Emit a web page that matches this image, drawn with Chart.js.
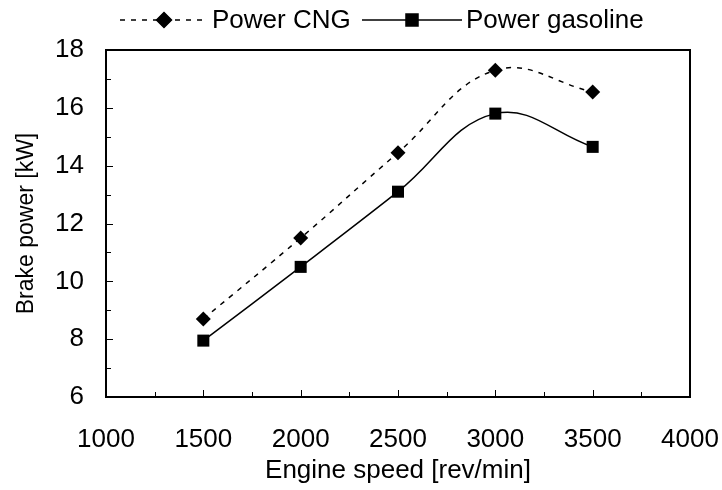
<!DOCTYPE html>
<html>
<head>
<meta charset="utf-8">
<script src="https://cdn.jsdelivr.net/npm/chart.js@4"></script>
<style>
  html, body { margin: 0; padding: 0; background: #fff; }
  #wrap { width: 722px; height: 490px; }
</style>
</head>
<body>
<div id="wrap"><canvas id="chart" width="722" height="490"></canvas></div>
<script>
// ── Data ────────────────────────────────────────────────────────────
const speeds      = [1500, 2000, 2500, 3000, 3500];
const powerCNG    = [8.7, 11.5, 14.45, 17.3, 16.55];
const powerGasol  = [7.95, 10.5, 13.1, 15.8, 14.65];
const seriesNames = ['Power CNG', 'Power gasoline'];

const FONT = '"Liberation Sans", Arial, sans-serif';
const FS = 26;

// ── Plugins ─────────────────────────────────────────────────────────
// frame + inward ticks (major and minor), like the spreadsheet chart
const framePlugin = {
  id: 'frame',
  afterDraw(chart) {
    const { ctx, chartArea: a, scales: { x, y } } = chart;
    ctx.save();
    ctx.strokeStyle = '#000';
    ctx.lineWidth = 1;
    for (let v = 1250; v < 4000; v += 250) {
      const px = Math.round(x.getPixelForValue(v)) + 0.5;
      const len = v % 500 === 0 ? 7 : 5;
      ctx.beginPath(); ctx.moveTo(px, a.bottom); ctx.lineTo(px, a.bottom - len); ctx.stroke();
    }
    for (let v = 7; v < 18; v += 1) {
      const py = Math.round(y.getPixelForValue(v)) + 0.5;
      const len = v % 2 === 0 ? 7 : 5;
      ctx.beginPath(); ctx.moveTo(a.left, py); ctx.lineTo(a.left + len, py); ctx.stroke();
    }
    ctx.lineWidth = 2;
    ctx.strokeRect(a.left, a.top, a.right - a.left, a.bottom - a.top);
    ctx.restore();
  }
};

// legend: line sample with marker in the middle, then the label
const legendPlugin = {
  id: 'lineLegend',
  afterDraw(chart) {
    const { ctx } = chart;
    const items = [
      { x0: 120, x1: 208, tx: 212 },
      { x0: 362, x1: 462, tx: 466 }
    ];
    const cy = 20;
    ctx.save();
    ctx.font = `${FS}px ${FONT}`;
    ctx.textBaseline = 'middle';
    ctx.fillStyle = '#000';
    chart.data.datasets.forEach((ds, i) => {
      const it = items[i];
      ctx.strokeStyle = '#000';
      ctx.lineWidth = ds.borderWidth;
      ctx.setLineDash(ds.borderDash || []);
      ctx.beginPath(); ctx.moveTo(it.x0, cy); ctx.lineTo(it.x1, cy); ctx.stroke();
      ctx.setLineDash([]);
      Chart.helpers.drawPoint(ctx, {
        pointStyle: ds.pointStyle, radius: ds.pointRadius, borderWidth: 1, rotation: 0
      }, (it.x0 + it.x1) / 2, cy);
      ctx.fill();
      ctx.fillText(ds.label, it.tx, cy + 1);
    });
    ctx.restore();
  }
};

// ── Chart ───────────────────────────────────────────────────────────
const ctx = document.getElementById('chart').getContext('2d');
new Chart(ctx, {
  type: 'line',
  data: {
    datasets: [
      {
        label: seriesNames[0],
        data: speeds.map((s, i) => ({ x: s, y: powerCNG[i] })),
        borderColor: '#000', backgroundColor: '#000',
        borderWidth: 1.5, borderDash: [5, 6],
        pointStyle: 'rectRot', pointRadius: 7.5, pointBorderWidth: 0,
        tension: 0.4, fill: false
      },
      {
        label: seriesNames[1],
        data: speeds.map((s, i) => ({ x: s, y: powerGasol[i] })),
        borderColor: '#000', backgroundColor: '#000',
        borderWidth: 1.5,
        pointStyle: 'rect', pointRadius: 8.5, pointBorderWidth: 0,
        tension: 0.4, fill: false
      }
    ]
  },
  options: {
    responsive: false,
    animation: false,
    layout: { padding: { top: 50, right: 0, left: 0, bottom: 0 } },
    plugins: { legend: { display: false }, tooltip: { enabled: false } },
    scales: {
      x: {
        type: 'linear', min: 1000, max: 4000,
        grid: { display: false, drawTicks: false },
        border: { display: false },
        ticks: { stepSize: 500, color: '#000', font: { family: FONT, size: FS }, padding: 27, maxRotation: 0,
                 callback: v => String(v) },
        title: { display: true, text: 'Engine speed [rev/min]', color: '#000', font: { family: FONT, size: FS }, padding: { top: 0, bottom: 4 } },
        afterFit(scale) { scale.height = 93; scale.paddingRight = 32; }
      },
      y: {
        min: 6, max: 18,
        grid: { display: false, drawTicks: false },
        border: { display: false },
        ticks: { stepSize: 2, color: '#000', font: { family: FONT, size: FS }, padding: 22 },
        title: { display: true, text: 'Brake power [kW]', color: '#000', font: { family: FONT, size: 23 }, padding: { top: 13, bottom: 0 } },
        afterFit(scale) { scale.width = 106; }
      }
    }
  },
  plugins: [framePlugin, legendPlugin]
});
</script>
</body>
</html>
